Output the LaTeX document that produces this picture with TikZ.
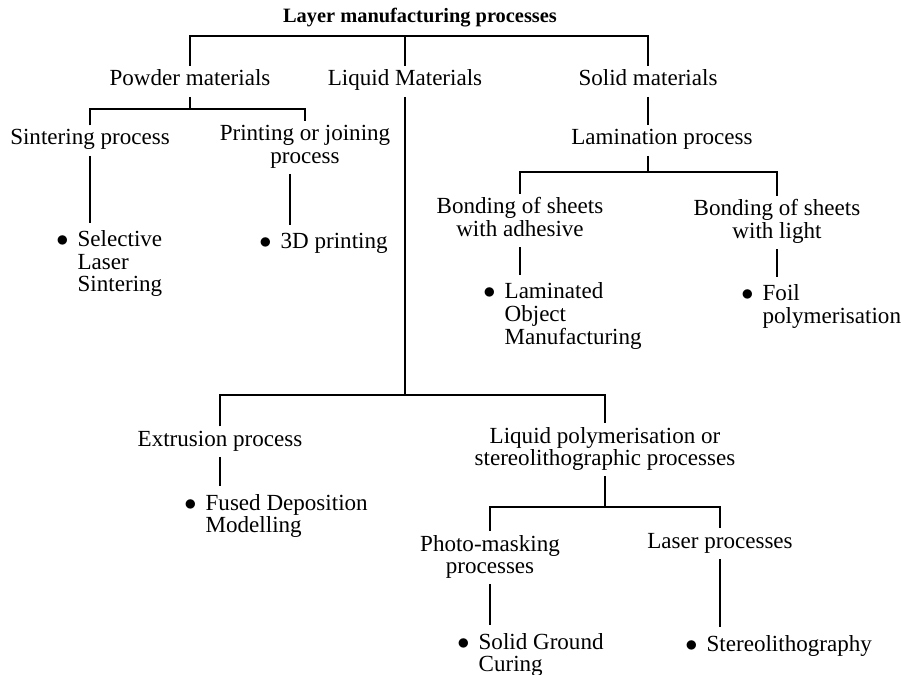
\documentclass[tikz,border=0pt]{standalone}
\usepackage{fontspec}
\setmainfont{Liberation Serif}
\usepackage{tikz}
\usetikzlibrary{calc}

\newcommand{\stack}[1]{\begin{tabular}[t]{@{}c@{}}#1\end{tabular}}
\newcommand{\itemtext}[1]{$\bullet$\hspace{0.4em}\begin{tabular}[t]{@{}l@{}}#1\end{tabular}}

\begin{document}
\begin{tikzpicture}[x=0.025cm, y=-0.025cm,
    font=\fontsize{16.4}{15.65}\selectfont,
    lbl/.style={anchor=base, inner sep=1pt, outer ysep=2pt},
    leaf/.style={anchor=base west, inner sep=0pt, outer ysep=6pt},
    branch/.style={line width=1pt}]

    \fill[white] (0,0) rectangle (901,675);
    \useasboundingbox (0,0) rectangle (901,675);

    % top level
    \node[lbl, font=\bfseries\fontsize{14.5}{16}\selectfont] (title) at (420,23) {Layer manufacturing processes};
    \node[lbl] (pow) at (190,86) {\stack{Powder materials}};
    \node[lbl] (liq) at (405,86) {\stack{Liquid Materials}};
    \node[lbl] (sol) at (648,86) {\stack{Solid materials}};

    \coordinate (fk0) at (405,36);
    \draw[branch] (pow.north) |- (fk0) -| (sol.north);
    \draw[branch] (fk0) -- (liq.north);

    % powder materials
    \node[lbl] (sint) at (90,145) {\stack{Sintering process}};
    \node[lbl] (prnt) at (305,141) {\stack{Printing or joining\\process}};
    \coordinate (fk1) at (190,109);
    \draw[branch] (pow.south) -- (fk1);
    \draw[branch] (sint.north) |- (fk1) -| (prnt.north);

    \node[leaf] (sls) at (56,247) {\itemtext{Selective\\Laser\\Sintering}};
    \node[leaf] (tdp) at (259,249) {\itemtext{3D printing}};
    \draw[branch] (sint.south) -- (sint.south |- sls.north);
    \coordinate (pj) at ($(prnt.south)+(-15,0)$);
    \draw[branch] (pj) -- (pj |- tdp.north);

    % solid materials
    \node[lbl] (lam) at (662,145) {\stack{Lamination process}};
    \draw[branch] (sol.south) -- (sol.south |- lam.north);
    \coordinate (fk4) at (648,172);
    \draw[branch] (sol.south |- lam.south) -- (fk4);
    \node[lbl] (bda) at (520,214) {\stack{Bonding of sheets\\with adhesive}};
    \node[lbl] (bdl) at (777,216) {\stack{Bonding of sheets\\with light}};
    \draw[branch] (bda.north) |- (fk4) -| (bdl.north);

    \node[leaf] (lom) at (483,299) {\itemtext{Laminated\\Object\\Manufacturing}};
    \node[leaf] (foil) at (741,301) {\itemtext{Foil\\polymerisation}};
    \draw[branch] (bda.south) -- (bda.south |- lom.north);
    \draw[branch] (bdl.south) -- (bdl.south |- foil.north);

    % liquid materials
    \coordinate (fk2) at (405,395);
    \draw[branch] (liq.south) -- (fk2);
    \node[lbl] (extr) at (220,446) {\stack{Extrusion process}};
    \node[lbl] (lpol) at (605,443) {\stack{Liquid polymerisation or\\stereolithographic processes}};
    \draw[branch] (extr.north) |- (fk2) -| (lpol.north);

    \node[leaf] (fdm) at (184,510) {\itemtext{Fused Deposition\\Modelling}};
    \draw[branch] (extr.south) -- (extr.south |- fdm.north);

    \coordinate (fk3) at (605,507);
    \draw[branch] (lpol.south) -- (fk3);
    \node[lbl] (phot) at (490,551) {\stack{Photo-masking\\processes}};
    \node[lbl] (lasr) at (720,548) {\stack{Laser processes}};
    \draw[branch] (phot.north) |- (fk3) -| (lasr.north);

    \node[leaf] (sgc) at (457,649) {\itemtext{Solid Ground\\Curing}};
    \node[leaf] (stl) at (685,651) {\itemtext{Stereolithography}};
    \draw[branch] (phot.south) -- (phot.south |- sgc.north);
    \draw[branch] (lasr.south) -- (lasr.south |- stl.north);
\end{tikzpicture}
\end{document}
